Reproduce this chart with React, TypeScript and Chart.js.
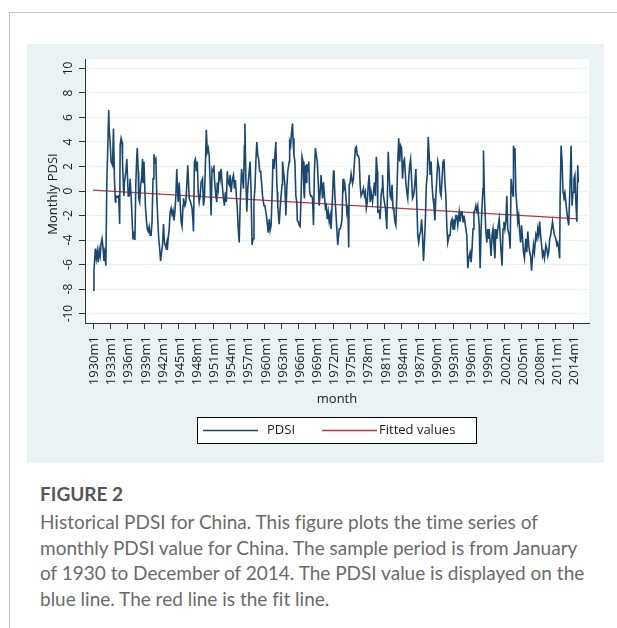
import React, { useEffect, useRef } from "react";
import { Chart, registerables } from "chart.js";

Chart.register(...registerables);

// x tick labels (year of each "m1" tick, every 3 years)
const tickYears = [1930, 1933, 1936, 1939, 1942, 1945, 1948, 1951, 1954, 1957, 1960, 1963, 1966, 1969, 1972, 1975, 1978, 1981, 1984, 1987, 1990, 1993, 1996, 1999, 2002, 2005, 2008, 2011, 2014];
const yTicks = [-10, -8, -6, -4, -2, 0, 2, 4, 6, 8, 10];

// month index since 1930m1 of each PDSI reading
const pdsiMonth = [
  0, 2, 5, 7, 9, 11, 13, 15, 17, 19, 21, 23, 25, 27, 29, 31, 33, 34, 36, 38, 41, 43, 45, 47, 48, 51, 54, 56, 57, 59,
  61, 62, 64, 65, 66, 69, 71, 72, 74, 76, 78, 80, 83, 84, 86, 88, 90, 92, 93, 95, 96, 98, 100, 102, 104, 105, 107, 110, 112, 114,
  116, 118, 120, 122, 124, 126, 128, 130, 132, 134, 136, 138, 140, 142, 144, 146, 148, 150, 153, 155, 156, 158, 160, 162, 164, 166, 168, 170, 172, 174,
  176, 177, 179, 181, 183, 185, 187, 189, 190, 193, 195, 197, 199,
  202, 205, 208, 210, 211, 213, 215, 217, 219, 221, 223, 225, 227, 230, 232, 234, 237, 238, 240, 242, 244, 246, 248, 250, 252, 254, 255, 258, 260, 261,
  263, 265, 267, 269, 272, 274, 276, 278, 280, 282, 284, 286, 288, 290, 293, 295, 297, 299, 301, 303, 305, 307, 309, 312, 314, 316, 318, 319, 321, 323,
  325, 328, 330, 332, 334, 336, 338, 340, 342, 344, 346, 348, 350, 352, 354, 356, 359, 361, 363, 365, 368, 370, 372, 374, 376, 378, 380, 382, 384, 386,
  387, 388, 391, 393, 395, 397, 398, 400, 403, 405, 407, 409,
  412, 413, 415, 417, 419, 420, 422, 424, 426, 428, 429, 431, 433, 435, 437, 439, 441, 443, 444, 446, 448, 449, 452, 453, 455, 457, 459, 461, 463, 465,
  467, 469, 471, 473, 475, 477, 479, 482, 484, 486, 488, 490, 492, 494, 496, 498, 500, 503, 505, 506, 508, 510, 512, 514, 517, 519, 521, 523, 525, 527,
  529, 531, 533, 535, 537, 538, 540, 542, 545, 547, 549, 551, 553, 555, 557, 559, 561, 563, 566, 568, 570, 572, 574, 576, 578, 580, 582, 584, 587, 589,
  591, 593, 595, 597, 598, 601, 603, 605, 607, 608, 610, 612, 614, 617,
  620, 622, 624, 626, 628, 630, 632, 634, 636, 638, 640, 642, 644, 646, 648, 650, 652, 654, 657, 659, 661, 663, 665, 667, 669, 671, 673, 675, 678, 680,
  682, 684, 686, 688, 690, 692, 694, 696, 698, 700, 702, 704, 706, 708, 710, 712, 714, 716, 718, 720, 722, 724, 727, 729, 731, 733, 735, 737, 739, 741,
  743, 745, 748, 750, 752, 754, 756, 758, 760, 762, 764, 766, 769, 771, 773, 775, 777, 779, 781, 783, 785, 787, 790, 792, 794, 796, 798, 800, 802, 804,
  806, 808, 811, 813, 815, 817, 819, 820, 822, 825, 827, 829,
  830, 832, 834, 836, 838, 840, 842, 844, 846, 848, 850, 853, 855, 857, 859, 861, 863, 865, 867, 869, 871, 874, 876, 878, 880, 882, 883, 885, 886, 888,
  890, 892, 894, 896, 898, 900, 902, 904, 906, 909, 911, 913, 915, 917, 919, 921, 923, 925, 927, 930, 932, 934, 936, 938, 940, 942, 944, 946, 948, 951,
  953, 955, 957, 959, 961, 963, 965, 967, 969, 972, 974, 976, 978, 980, 981, 983, 985, 987, 989, 991, 993, 995, 997, 999, 1002, 1004, 1006, 1008, 1010, 1012,
  1014, 1016, 1018, 1019
];

// monthly PDSI value at each month above
const pdsiValue = [
  -8.1, -6.5, -4.7, -5.5, -4.9, -5.8, -4.8, -5.3, -4.3, -3.9, -4.6, -5.7, -5.2, -6.1, 0.7, 3.5, 6.6, 5.0, 4.0, 2.4, 2.1, 5.1, 1.0, -0.9, -0.4, -0.5, -0.4, -2.7, 3.7, 4.3,
  4.0, 2.4, 0.2, -0.4, 0.7, 1.6, 2.6, 1.6, -0.4, -0.4, 1.0, -0.4, -3.1, -3.9, -3.3, -4.0, 0.7, 2.9, 3.5, 1.6, -0.6, -0.9, 0.5, 1.0, 2.6, 0.7, 2.4, -1.2, -2.3, -3.1,
  -3.3, -2.9, -3.6, -3.6, -2.5, 1.0, 3.0, 2.4, 2.6, -0.4, -2.3, -3.9, -4.7, -5.7, -5.0, -4.4, -2.7, -4.2, -4.6, -4.2, -4.8, -3.8, -3.1, -1.7, -1.4, -1.9, -1.6, -2.4, -1.7, -0.4,
  1.8, 0.5, -0.9, 0.7, -0.9, -2.5, -2.9, -1.2, -0.6, -1.2, -0.9, 0.5, 2.1,
  -0.6, -0.9, -1.4, -2.5, -3.3, 2.4, 2.6, 1.6, 2.4, -0.1, -0.9, -0.4, 0.7, 1.0, -1.2, -0.6, 3.5, 5.0, 3.2, 3.5, 2.9, 0.7, -2.0, 1.8, 1.6, 2.1, 1.0, -0.4, -0.9, 0.7,
  0.2, 1.6, 1.0, 1.8, 0.2, -0.6, -1.2, -0.1, -0.9, 1.6, 0.7, 0.5, 1.3, -0.1, 1.0, 1.3, 0.2, 0.9, -0.4, -1.4, -3.1, -4.2, -1.2, 1.8, 1.0, 0.2, 3.7, 5.5, 1.0, -1.7,
  0.2, 1.6, 2.4, -0.1, -4.4, -3.9, -0.9, 0.2, 2.4, 4.0, 2.9, 2.6, 1.6, 1.6, 0.7, -0.4, -1.2, -1.2, -1.7, -2.3, -3.4, -2.3, -3.2, -2.8, -0.4, 2.6, 1.8, 2.9, 4.0, 0.7,
  -0.1, -1.2, -2.7, -1.4, -0.4, 0.5, 2.4, 1.6, 0.5, -2.0, 0.2, 1.6,
  2.4, 4.0, 3.7, 4.8, 5.5, 4.3, 2.9, 2.4, -0.4, -0.9, -2.4, -2.5, -2.8, -2.9, -0.4, 2.8, 2.4, -0.1, -0.6, 2.1, 0.7, 2.2, 1.6, 2.4, -0.1, -0.4, -0.4, -0.6, -2.8, 1.6,
  3.5, 2.9, 2.4, 0.7, -1.2, -0.1, 1.3, -0.6, 0.7, -0.4, -1.4, -1.2, -2.3, -1.7, -2.5, -2.0, -3.1, -0.4, 1.6, 1.7, -0.4, -1.7, -3.1, -4.4, -3.1, -3.1, -2.8, -2.3, 1.0, 0.2,
  0.5, -0.4, -1.7, -1.2, -4.6, 0.5, 0.7, 1.4, 0.6, 1.0, 2.4, 3.5, 3.6, 2.9, 2.9, 2.6, 0.5, -0.4, -0.1, 0.2, -0.4, -0.1, -1.4, -0.9, 0.5, 1.3, -0.9, -0.1, -0.9, -0.1,
  0.7, -0.4, 2.8, 1.6, -1.7, -1.6, -2.3, -0.4, 0.2, 1.3, -0.4, -0.9, -1.4, -3.1,
  3.2, 1.3, -0.4, -0.6, 0.5, -1.4, -1.7, -2.5, -2.8, -0.4, 2.4, 4.3, 2.4, 3.7, 3.5, 1.0, 2.4, 2.6, 0.7, -0.1, -0.6, 1.0, 2.1, 2.6, 1.0, -0.6, -0.4, 0.2, 1.8, -0.9,
  -3.6, -4.2, -3.6, -3.3, -2.3, -3.6, -5.7, -4.2, -2.3, 0.5, 1.3, 4.4, 2.9, 1.3, 2.4, 0.5, -0.6, -1.2, -2.4, -0.4, 1.0, 2.4, 1.8, -0.1, -0.4, 1.0, 2.4, 2.6, 0.7, -0.4,
  -2.8, -4.2, -3.6, -3.6, -2.5, -2.3, -3.1, -2.3, -2.8, -2.0, -2.0, -2.8, -1.7, -2.5, -1.7, -1.7, -2.5, -2.0, -2.5, -3.1, -3.6, -6.3, -5.3, -5.0, -5.8, -4.7, -3.1, -1.7, -1.6, -1.2,
  -1.6, -1.2, -2.8, -6.3, -3.1, -1.2, 0.2, 3.3, -0.4, -3.3, -4.2, -3.1,
  -3.9, -3.1, -4.2, -5.3, -3.6, -3.1, -4.4, -5.5, -3.1, -3.9, -3.1, -2.3, -3.6, -5.0, -6.1, -3.1, -2.5, -3.1, -2.5, -0.4, -3.1, -3.6, -4.7, 1.0, 0.2, -0.4, 3.7, 2.6, 3.5, -0.1,
  -1.2, -2.5, -2.0, -3.3, -4.2, -2.8, -3.9, -5.0, -5.5, -3.9, -5.0, -3.3, -4.4, -5.0, -5.3, -6.5, -5.3, -4.4, -5.0, -3.6, -3.9, -3.1, -3.6, -2.5, -3.6, -4.4, -5.3, -5.0, -5.5, -4.4,
  -4.7, -5.3, -5.0, -3.9, -3.6, -3.1, -2.5, -3.1, -3.6, -3.9, -4.4, -4.2, -4.7, -5.5, -0.4, 3.7, 2.4, -0.1, -0.4, -0.1, -0.9, -1.7, -2.3, -2.8, 0.7, 3.7, -1.2, -0.1, 1.0, 1.3,
  -0.9, -2.5, 2.1, 0.7
];

// linear fit line end points
const fittedMonth = [0, 1019];
const fittedValue = [0.07, -2.27];

const seriesLabels = ["PDSI", "Fitted values"];
const FONT = '"Open Sans", "DejaVu Sans", sans-serif';
const NAVY = "#1a476f";
const RED = "#b8383d";

const textPlugin = {
  id: "stataText",
  afterDraw(chart: any) {
    const ctx = chart.ctx;
    const xs = chart.scales.x;
    const ys = chart.scales.y;
    const ca = chart.chartArea;
    ctx.save();
    ctx.fillStyle = "#1c1c1c";
    // y tick labels (vertical)
    ctx.font = `12px ${FONT}`;
    yTicks.forEach((v) => {
      const y = ys.getPixelForValue(v);
      ctx.save();
      ctx.translate(ca.left - 16, y);
      ctx.rotate(-Math.PI / 2);
      ctx.textAlign = "center";
      ctx.textBaseline = "middle";
      ctx.fillText(String(v), 0, 0);
      ctx.restore();
    });
    // x tick labels (vertical)
    ctx.font = `13px ${FONT}`;
    tickYears.forEach((yr) => {
      const x = xs.getPixelForValue((yr - 1930) * 12);
      ctx.save();
      ctx.translate(x + 1.5, ca.bottom + 13);
      ctx.rotate(-Math.PI / 2);
      ctx.textAlign = "right";
      ctx.textBaseline = "middle";
      ctx.fillText(`${yr}m1`, 0, 0);
      ctx.restore();
    });
    // axis titles
    ctx.font = `13px ${FONT}`;
    ctx.textAlign = "center";
    ctx.textBaseline = "middle";
    ctx.fillText("month", (ca.left + ca.right) / 2, 355);
    ctx.save();
    ctx.translate(26, 150);
    ctx.rotate(-Math.PI / 2);
    ctx.fillText("Monthly PDSI", 0, 0);
    ctx.restore();
    // legend
    const lx = 170.5, ly = 373.5, lw = 279, lh = 26;
    ctx.fillStyle = "#ffffff";
    ctx.fillRect(lx, ly, lw, lh);
    ctx.strokeStyle = "#000";
    ctx.lineWidth = 1;
    ctx.strokeRect(lx, ly, lw, lh);
    const cy = ly + lh / 2;
    ctx.lineWidth = 1.3;
    ctx.strokeStyle = NAVY;
    ctx.beginPath(); ctx.moveTo(176, cy); ctx.lineTo(231, cy); ctx.stroke();
    ctx.strokeStyle = RED;
    ctx.beginPath(); ctx.moveTo(295, cy); ctx.lineTo(350, cy); ctx.stroke();
    ctx.fillStyle = "#1c1c1c";
    ctx.font = `13px ${FONT}`;
    ctx.textAlign = "left";
    ctx.fillText(seriesLabels[0], 240, cy);
    ctx.fillText(seriesLabels[1], 352, cy);
    ctx.restore();
  },
};

function PdsiChart() {
  const ref = useRef<HTMLCanvasElement | null>(null);
  useEffect(() => {
    if (!ref.current) return;
    const chart = new Chart(ref.current, {
      type: "line",
      data: {
        datasets: [
          {
            label: seriesLabels[0],
            data: pdsiMonth.map((m, i) => ({ x: m, y: pdsiValue[i] })),
            borderColor: NAVY,
            borderWidth: 1.6,
            pointRadius: 0,
            tension: 0,
          },
          {
            label: seriesLabels[1],
            data: fittedMonth.map((m, i) => ({ x: m, y: fittedValue[i] })),
            borderColor: RED,
            borderWidth: 1.2,
            pointRadius: 0,
          },
        ],
      },
      options: {
        responsive: false,
        animation: false,
        devicePixelRatio: 1,
        layout: { padding: { top: 15, right: 15, left: 0, bottom: 0 } },
        plugins: { legend: { display: false }, tooltip: { enabled: false } },
        scales: {
          x: {
            type: "linear",
            min: -16.8,
            max: 1041.6,
            ticks: { display: false },
            afterBuildTicks: (axis: any) => {
              axis.ticks = tickYears.map((y) => ({ value: (y - 1930) * 12 }));
            },
            afterFit: (axis: any) => {
              axis.height = 140;
            },
            grid: { drawOnChartArea: false, tickColor: "#333", tickLength: 6, drawTicks: true },
            border: { display: true, color: "#333", width: 1 },
          },
          y: {
            type: "linear",
            min: -10.77,
            max: 10.77,
            ticks: { display: false },
            afterBuildTicks: (axis: any) => {
              axis.ticks = yTicks.map((v) => ({ value: v }));
            },
            afterFit: (axis: any) => {
              axis.width = 58;
            },
            grid: { color: "#eaf2f3", tickColor: "#333", tickLength: 6, drawTicks: true, lineWidth: 1 },
            border: { display: true, color: "#333", width: 1 },
          },
        },
      },
      plugins: [
        {
          id: "plotBg",
          beforeDraw(c: any) {
            const a = c.chartArea;
            c.ctx.save();
            c.ctx.fillStyle = "#ffffff";
            c.ctx.fillRect(a.left, a.top, a.right - a.left, a.bottom - a.top);
            c.ctx.restore();
          },
        },
        textPlugin,
      ],
    } as any);
    return () => chart.destroy();
  }, []);
  return <canvas ref={ref} width={577} height={419} style={{ width: 577, height: 419, display: "block" }} />;
}

export default function App() {
  const captionFont = 'Lato, "Open Sans", sans-serif';
  return (
    <div style={{ position: "absolute", left: 0, top: 0, width: 617, height: 628, background: "#fff", overflow: "hidden" }}>
      <div style={{ position: "absolute", left: 9, top: 12, right: 0, height: 1, background: "#c4c4c4" }} />
      <div style={{ position: "absolute", left: 9, top: 12, bottom: 0, width: 1, background: "#c4c4c4" }} />
      <div style={{ position: "absolute", left: 27, top: 44, width: 577, height: 419, background: "#eaf2f3" }}>
        <PdsiChart />
      </div>
      <div style={{ position: "absolute", left: 40, top: 481, fontFamily: captionFont, fontSize: 19, lineHeight: "26px", fontWeight: 700, color: "#555", fontVariantLigatures: "none" }}>
        FIGURE 2
      </div>
      <div style={{ position: "absolute", left: 40, top: 509, fontFamily: captionFont, fontSize: 19, lineHeight: "25.5px", color: "#6a6a6a", whiteSpace: "nowrap", fontVariantLigatures: "none" }}>
        Historical PDSI for China. This figure plots the time series of<br />
        monthly PDSI value for China. The sample period is from January<br />
        of 1930 to December of 2014. The PDSI value is displayed on the<br />
        blue line. The red line is the fit line.
      </div>
    </div>
  );
}
